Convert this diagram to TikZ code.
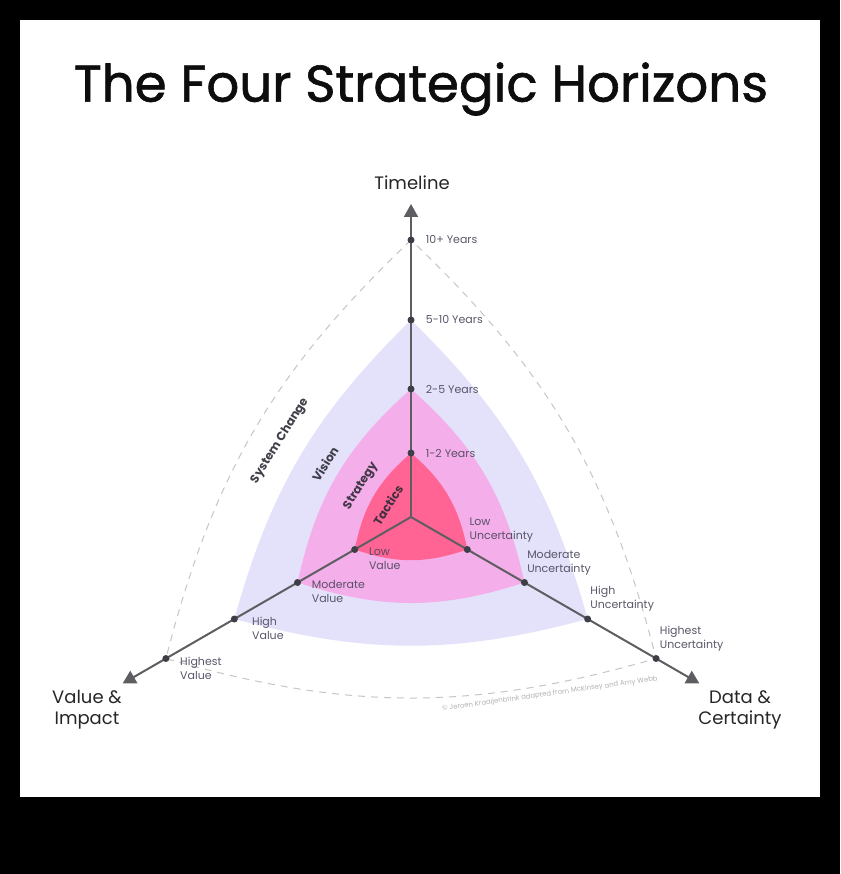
\documentclass[tikz,border=0pt]{standalone}
\usepackage{fontspec}
\setmainfont{Poppins}
\usepackage{tikz}
\usepackage{xcolor}
\usetikzlibrary{arrows.meta, positioning}

\definecolor{visionfill}{HTML}{E4E2FA}
\definecolor{strategyfill}{HTML}{F4AFEA}
\definecolor{tacticsfill}{HTML}{FF6495}
\definecolor{axisgray}{HTML}{5E5E62}
\definecolor{dotgray}{HTML}{3E3E46}
\definecolor{labelgray}{HTML}{48465A}
\definecolor{zonetext}{HTML}{2E2A36}
\definecolor{dashgray}{HTML}{C6C6C6}

\tikzstyle{tickdot} = [circle, fill=dotgray, inner sep=0pt, minimum size=7pt]
\tikzstyle{tick} = [inner sep=1pt, align=left, text=labelgray, text opacity=0.9, font=\fontsize{11}{14}\selectfont]
\tikzstyle{zone} = [inner sep=0pt, rotate=58, text=zonetext, text opacity=0.9, font=\fontsize{12}{14}\selectfont\bfseries]
\tikzstyle{axisname} = [inner sep=0pt, align=center, text=black!85, font=\fontsize{18}{21}\selectfont]
\tikzstyle{axis} = [draw=axisgray, line width=2pt, -{Triangle[width=14pt,length=13pt]}]
\tikzstyle{horizon} = [draw=dashgray, line width=1pt, dash pattern=on 7pt off 6pt]

\begin{document}
\begin{tikzpicture}[x=1pt, y=-1pt]

\useasboundingbox (0,0) rectangle (840,874);
\fill[black] (0,0) rectangle (840,874);
\fill[white] (20,20) rectangle (820,797);

\node[inner sep=0pt, text=black!95, font=\fontsize{51.5}{56}\selectfont\addfontfeature{FakeBold=1.2}] (title) at (421,89) {The Four Strategic Horizons};

\begin{scope}[shift={(411,517)}]
\coordinate (O) at (0,0);
\coordinate (t1) at (270:64);
\coordinate (t2) at (270:128);
\coordinate (t3) at (270:197);
\coordinate (t4) at (270:277);
\coordinate (v1) at (150:65);
\coordinate (v2) at (150:131);
\coordinate (v3) at (150:204);
\coordinate (v4) at (150:283);
\coordinate (u1) at (30:65);
\coordinate (u2) at (30:131);
\coordinate (u3) at (30:204);
\coordinate (u4) at (30:283);
\coordinate (endT) at (270:313);
\coordinate (endV) at (150:333);
\coordinate (endU) at (30:333);
\end{scope}

\fill[visionfill] (t3) to[bend right=15] (v3) to[bend right=15] (u3) to[bend right=15] (t3);
\fill[strategyfill] (t2) to[bend right=18] (v2) to[bend right=18] (u2) to[bend right=18] (t2);
\fill[tacticsfill] (t1) to[bend right=19] (v1) to[bend right=19] (u1) to[bend right=19] (t1);
\draw[horizon] (t4) to[bend right=16] (v4) to[bend right=16] (u4) to[bend right=16] (t4);

\path[axis] (O) -- (endT);
\path[axis] (O) -- (endV);
\path[axis] (O) -- (endU);

\node[tickdot] (dt1) at (t1) {};
\node[tickdot] (dt2) at (t2) {};
\node[tickdot] (dt3) at (t3) {};
\node[tickdot] (dt4) at (t4) {};
\node[tickdot] (dv1) at (v1) {};
\node[tickdot] (dv2) at (v2) {};
\node[tickdot] (dv3) at (v3) {};
\node[tickdot] (dv4) at (v4) {};
\node[tickdot] (du1) at (u1) {};
\node[tickdot] (du2) at (u2) {};
\node[tickdot] (du3) at (u3) {};
\node[tickdot] (du4) at (u4) {};

\node[tick, right=10pt of dt1] (lt1) {1-2 Years};
\node[tick, right=10pt of dt2] (lt2) {2-5 Years};
\node[tick, right=10pt of dt3] (lt3) {5-10 Years};
\node[tick, right=10pt of dt4] (lt4) {10+ Years};

\node[tick, below right=-5.5pt and 10.5pt of dv1] (lv1) {Low\\Value};
\node[tick, below right=-5.5pt and 10.5pt of dv2] (lv2) {Moderate\\Value};
\node[tick, below right=-5.5pt and 14pt of dv3] (lv3) {High\\Value};
\node[tick, below right=-5.5pt and 10.5pt of dv4] (lv4) {Highest\\Value};

\node[tick, above right=3.5pt and -1.5pt of du1] (lu1) {Low\\Uncertainty};
\node[tick, above right=3.5pt and -1pt of du2] (lu2) {Moderate\\Uncertainty};
\node[tick, above right=3.5pt and -1pt of du3] (lu3) {High\\Uncertainty};
\node[tick, above right=3.5pt and 0pt of du4] (lu4) {Highest\\Uncertainty};

\node[zone] (ztactics) at (388,505) {Tactics};
\node[zone] (zstrategy) at (361,486) {Strategy};
\node[zone] (zvision) at (325,464) {Vision};
\node[zone] (zsystem) at (280,441) {System Change};

\node[axisname] (nT) at (412,183) {Timeline};
\node[axisname] (nV) at (87,710) {Value \&\\Impact};
\node[axisname] (nU) at (740,710) {Data \&\\Certainty};

\node[inner sep=0pt, rotate=8, text=black!30, font=\fontsize{6.9}{8}\selectfont] (credit) at (550,694) {© Jeroen Kraaijenbrink adapted from McKinsey and Amy Webb};

\end{tikzpicture}
\end{document}
